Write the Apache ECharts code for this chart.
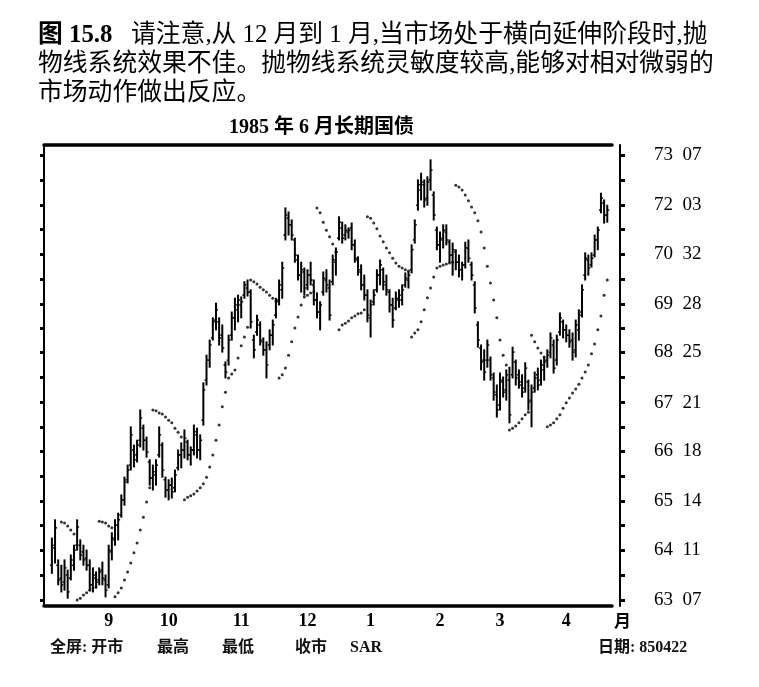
<!DOCTYPE html>
<html>
<head>
<meta charset="utf-8">
<script src="https://cdn.jsdelivr.net/npm/echarts@6.0.0/dist/echarts.min.js"></script>
<style>
  html, body { margin: 0; padding: 0; background: #fff; }
  #chart { width: 759px; height: 687px; }
</style>
</head>
<body>
<div id="chart"></div>
<script>
  // trading days shown on the chart, per month
  const TRADING_DAYS = [
    ['1984-08', [6, 7, 8, 9, 10, 13, 14, 15, 16, 17, 20, 21, 22, 23, 24, 27, 28, 29, 30, 31]],
    ['1984-09', [4, 5, 6, 7, 10, 11, 12, 13, 14, 17, 18, 19, 20, 21, 24, 25, 26, 27, 28]],
    ['1984-10', [1, 2, 3, 4, 5, 8, 9, 10, 11, 12, 15, 16, 17, 18, 19, 22, 23, 24, 25, 26, 29, 30, 31]],
    ['1984-11', [1, 2, 5, 6, 7, 8, 9, 12, 13, 14, 15, 16, 19, 20, 21, 23, 26, 27, 28, 29, 30]],
    ['1984-12', [3, 4, 5, 6, 7, 10, 11, 12, 13, 14, 17, 18, 19, 20, 21, 24, 26, 27, 28, 31]],
    ['1985-01', [2, 3, 4, 7, 8, 9, 10, 11, 14, 15, 16, 17, 18, 21, 22, 23, 24, 25, 28, 29, 30, 31]],
    ['1985-02', [1, 4, 5, 6, 7, 8, 11, 12, 13, 14, 15, 19, 20, 21, 22, 25, 26, 27, 28]],
    ['1985-03', [1, 4, 5, 6, 7, 8, 11, 12, 13, 14, 15, 18, 19, 20, 21, 22, 25, 26, 27, 28, 29]],
    ['1985-04', [1, 2, 3, 4, 8, 9, 10, 11, 12, 15, 16, 17, 18, 19, 22]],
  ];

  const OPEN = [
    null, null, 64.00, 64.39, 64.00, 63.71, 63.62, 63.78, 63.71, 64.00,
    64.45, 64.45, 64.30, 64.16, 64.00, 63.56, 63.71, 63.67, 63.89, 63.67,
    63.56, 64.30, 64.57, 64.90, 65.13, 65.47, 65.92, 66.25, 66.59, 66.48,
    66.81, 67.08, 66.81, 66.32, 65.96, 66.03, 66.48, 66.70, 65.92, 65.69,
    65.80, 65.74, 66.19, 66.48, 66.59, 66.77, 66.48, 66.59, 66.93, 66.59,
    67.26, 68.16, 68.61, 69.11, 69.51, 69.47, 69.17, 68.50, 68.61, 69.17,
    69.56, 69.74, 69.85, 70.07, 70.23, 70.14, 69.06, 69.24, 69.40, 69.02,
    68.84, 68.95, 69.17, 69.62, 69.96, 70.19, 71.42, 71.80, 71.65, 71.31,
    70.86, 70.52, 70.59, 70.30, 70.52, 70.30, 69.96, 69.69, 70.14, 70.41,
    70.23, 70.37, 70.81, 71.35, 71.58, 71.42, 71.49, 71.58, 71.20, 70.86,
    70.59, 70.30, 70.07, 69.56, 69.92, 70.19, 70.52, 70.64, 70.30, 70.14,
    69.85, 69.78, 69.96, 69.96, 70.30, 70.41, 70.64, 71.31, 72.09, 72.43,
    72.55, 72.25, 72.66, 72.32, 71.53, 71.20, 71.35, 71.49, 71.26, 70.97,
    71.04, 70.81, 70.64, 70.75, 71.13, 70.75, 70.30, 69.40, 68.88, 68.61,
    68.61, 68.61, 68.21, 67.83, 67.60, 68.12, 67.94, 68.16, 68.28, 68.57,
    68.28, 68.05, 67.98, 68.12, 67.71, 67.98, 68.28, 68.16, 68.39, 68.61,
    68.79, 68.95, 68.61, 69.24, 69.47, 69.29, 69.17, 69.06, 68.84, 69.29,
    69.69, 70.52, 70.86, 70.75, 70.97, 71.31, 71.98, 72.14, 71.87, null,
  ];
  const HIGH = [
    null, null, 64.61, 65.02, 64.12, 64.00, 64.12, 63.89, 64.23, 64.45,
    65.02, 64.57, 64.45, 64.34, 64.12, 63.94, 63.85, 63.94, 64.07, 63.78,
    64.45, 64.73, 65.02, 65.17, 65.58, 65.98, 66.25, 67.11, 66.70, 66.81,
    67.49, 67.15, 66.88, 66.37, 66.25, 66.37, 67.11, 66.75, 65.98, 65.92,
    65.96, 66.14, 66.59, 66.75, 67.04, 66.81, 66.66, 67.15, 67.08, 66.93,
    68.10, 68.72, 69.06, 69.56, 69.89, 69.56, 69.40, 68.57, 69.17, 69.69,
    70.00, 70.07, 70.03, 70.37, 70.41, 70.19, 69.17, 69.62, 69.47, 69.11,
    69.02, 69.29, 69.51, 70.00, 70.41, 70.81, 72.03, 71.94, 71.76, 71.35,
    70.97, 70.81, 70.68, 70.64, 70.81, 70.41, 70.12, 69.92, 70.59, 70.64,
    70.41, 70.97, 71.13, 71.83, 71.71, 71.65, 71.58, 71.69, 71.31, 70.93,
    70.75, 70.52, 70.19, 69.96, 70.19, 70.64, 70.86, 70.68, 70.52, 70.19,
    70.00, 70.14, 70.19, 70.30, 70.57, 70.59, 71.20, 71.76, 72.66, 72.81,
    72.66, 72.73, 73.11, 72.39, 71.60, 71.49, 71.65, 71.65, 71.31, 71.24,
    71.09, 70.97, 70.81, 71.26, 71.31, 70.81, 70.37, 69.47, 68.95, 68.84,
    69.06, 68.68, 68.32, 68.05, 68.32, 68.23, 68.39, 68.45, 68.90, 68.61,
    68.39, 68.28, 68.55, 68.16, 68.05, 68.34, 68.43, 68.61, 68.68, 68.84,
    69.22, 69.06, 69.17, 69.67, 69.51, 69.40, 69.29, 69.22, 69.51, 69.74,
    70.30, 71.02, 70.97, 71.02, 71.42, 71.60, 72.36, 72.21, 72.09, null,
  ];
  const LOW = [
    null, null, 63.82, 64.05, 63.56, 63.40, 63.44, 63.26, 63.67, 63.89,
    64.34, 64.12, 64.00, 63.89, 63.44, 63.40, 63.49, 63.56, 63.56, 63.29,
    63.49, 64.12, 64.45, 64.57, 65.08, 65.35, 65.85, 66.14, 66.21, 66.32,
    66.66, 66.59, 66.43, 65.80, 65.69, 65.80, 66.43, 65.98, 65.53, 65.47,
    65.51, 65.65, 66.14, 66.19, 66.41, 66.37, 66.25, 66.48, 66.41, 66.37,
    67.15, 68.05, 68.45, 69.06, 69.29, 68.95, 68.79, 68.21, 68.50, 69.06,
    69.29, 69.47, 69.56, 70.00, 70.05, 69.33, 68.66, 69.17, 68.95, 68.72,
    68.21, 68.84, 68.95, 69.56, 69.85, 70.00, 71.31, 71.42, 71.31, 70.81,
    70.41, 70.14, 70.07, 70.19, 70.30, 69.85, 69.56, 69.29, 70.07, 70.14,
    69.51, 70.30, 70.52, 71.31, 71.24, 71.31, 71.35, 71.09, 70.81, 70.52,
    70.19, 69.96, 69.47, 69.13, 69.85, 70.14, 70.30, 70.19, 70.07, 69.69,
    69.35, 69.74, 69.80, 69.85, 70.25, 70.23, 70.57, 71.24, 71.98, 72.21,
    72.05, 72.09, 72.43, 71.76, 71.09, 70.81, 71.13, 71.20, 70.81, 70.52,
    70.64, 70.48, 70.41, 70.68, 70.81, 70.41, 69.67, 68.90, 68.39, 68.16,
    68.45, 68.16, 67.71, 67.33, 67.49, 67.78, 67.71, 67.20, 68.21, 68.05,
    67.98, 67.78, 67.89, 67.49, 67.11, 67.89, 67.94, 68.05, 68.16, 68.45,
    68.66, 68.32, 68.50, 69.17, 69.11, 69.02, 68.90, 68.61, 68.68, 69.06,
    69.58, 70.41, 70.52, 70.70, 70.93, 71.09, 71.92, 71.69, 71.71, null,
  ];
  const CLOSE = [
    null, null, 64.45, 64.84, 63.67, 63.56, 63.94, 63.40, 64.12, 64.34,
    64.86, 64.23, 64.12, 64.00, 63.56, 63.78, 63.62, 63.85, 63.71, 63.44,
    64.34, 64.61, 64.90, 65.02, 65.47, 65.87, 66.14, 66.93, 66.37, 66.70,
    67.31, 66.81, 66.54, 65.96, 66.10, 66.25, 66.93, 66.14, 65.69, 65.80,
    65.65, 66.03, 66.48, 66.59, 66.86, 66.48, 66.59, 67.00, 66.59, 66.81,
    67.94, 68.61, 68.95, 69.47, 69.74, 69.11, 68.88, 68.34, 69.06, 69.56,
    69.85, 69.96, 69.92, 70.30, 70.14, 69.47, 68.84, 69.51, 69.06, 68.84,
    68.50, 69.17, 69.40, 69.92, 70.30, 70.68, 71.87, 71.65, 71.42, 70.97,
    70.52, 70.64, 70.23, 70.52, 70.41, 69.96, 69.69, 69.85, 70.45, 70.30,
    69.62, 70.86, 71.04, 71.71, 71.35, 71.53, 71.53, 71.20, 70.90, 70.64,
    70.30, 70.07, 69.62, 69.85, 70.07, 70.52, 70.75, 70.37, 70.19, 69.85,
    69.51, 70.00, 70.07, 70.19, 70.45, 70.52, 71.09, 71.65, 72.55, 72.61,
    72.21, 72.61, 72.88, 71.87, 71.20, 71.31, 71.53, 71.31, 70.97, 71.09,
    70.81, 70.64, 70.75, 71.13, 70.90, 70.52, 69.78, 69.06, 68.57, 68.34,
    68.95, 68.28, 67.89, 67.49, 68.16, 67.89, 68.28, 67.38, 68.79, 68.21,
    68.12, 67.89, 68.43, 67.67, 67.89, 68.21, 68.05, 68.50, 68.57, 68.72,
    69.11, 68.43, 69.06, 69.56, 69.29, 69.17, 69.02, 68.79, 69.40, 69.62,
    70.19, 70.90, 70.68, 70.90, 71.31, 71.53, 72.25, 71.87, 71.98, null,
  ];
  // parabolic stop-and-reverse dots
  const SAR = [
    null, null, null, null, null, 64.97, 64.95, 64.88, 64.79, 64.70,
    63.22, 63.26, 63.33, 63.38, 63.44, 63.49, 63.51, 64.99, 64.97, 64.95,
    64.88, 64.84, 63.29, 63.38, 63.49, 63.67, 63.85, 64.05, 64.28, 64.50,
    64.79, 65.08, 65.42, 65.74, 67.49, 67.47, 67.42, 67.40, 67.33, 67.26,
    67.20, 67.08, 66.99, 66.88, 65.47, 65.53, 65.56, 65.60, 65.67, 65.74,
    65.83, 65.98, 66.21, 66.48, 66.81, 67.15, 67.56, 67.89, 68.21, 68.30,
    68.39, 68.66, 68.93, 69.13, 69.35, 70.41, 70.37, 70.32, 70.25, 70.19,
    70.14, 70.07, 70.00, 69.94, 68.21, 68.28, 68.43, 68.72, 69.02, 69.33,
    69.58, 69.85, 70.03, 70.07, 70.12, 70.14, 72.03, 71.92, 71.71, 71.53,
    71.38, 71.22, 71.04, 69.29, 69.40, 69.44, 69.49, 69.56, 69.60, 69.65,
    69.67, 69.74, 71.83, 71.80, 71.69, 71.56, 71.40, 71.27, 71.13, 71.02,
    70.90, 70.79, 70.72, 70.68, 70.64, 70.61, 69.13, 69.22, 69.29, 69.47,
    69.74, 70.01, 70.23, 70.48, 70.68, 70.72, 70.75, 70.77, 70.79, 70.81,
    72.54, 72.50, 72.43, 72.32, 72.19, 72.05, 71.92, 71.74, 71.49, 71.13,
    70.72, 70.34, 69.96, 69.56, 69.06, 68.72, 68.50, 67.04, 67.08, 67.13,
    67.20, 67.29, 67.38, 67.44, 69.17, 69.02, 68.88, 68.77, 68.68, 67.11,
    67.15, 67.20, 67.29, 67.38, 67.53, 67.65, 67.76, 67.87, 67.96, 68.07,
    68.21, 68.34, 68.50, 68.75, 68.97, 69.29, 69.60, 70.07, 70.41, null,
  ];

  // price scale ticks, in points and 32nds
  const Y_TICK_LABELS = ['63 07', '64 11', '65 14', '66 18', '67 21', '68 25', '69 28', '70 32', '72 03', '73 07'];
  const Y_MIN = 63.084;
  const Y_MAX = 73.444;

  const CAPTION = [
    '{b|图 15.8}   请注意,从 12 月到 1 月,当市场处于横向延伸阶段时,抛',
    '物线系统效果不佳。抛物线系统灵敏度较高,能够对相对微弱的',
    '市场动作做出反应。',
  ];
  const CHART_TITLE = '1985 年 6 月长期国债';
  const FOOTER = [['全屏: 开市', 50], ['最高', 157], ['最低', 222], ['收市', 295], ['SAR', 350], ['日期: 850422', 598]];

  const SERIF = "'Liberation Serif', 'Noto Sans CJK SC', serif";
  const CJK = "'Liberation Serif', 'Noto Sans CJK SC', sans-serif";

  const CATEGORIES = [];
  TRADING_DAYS.forEach(([m, days]) => days.forEach((d) => CATEGORIES.push(m + '-' + String(d).padStart(2, '0'))));

  const yTickValue = (s) => { const [p, t] = s.split(' '); return Number(p) + Number(t) / 32; };
  const Y_TICKS = Y_TICK_LABELS.map(yTickValue);
  const Y_DOTS = Y_TICKS.concat(Y_TICKS.slice(1).map((v, i) => (v + Y_TICKS[i]) / 2));

  const isMonthStart = (i) => i > 0 && CATEGORIES[i].slice(0, 7) !== CATEGORIES[i - 1].slice(0, 7);

  const bars = [];
  const sar = [];
  for (let i = 0; i < CATEGORIES.length; i++) {
    if (HIGH[i] != null) bars.push([i, OPEN[i], HIGH[i], LOW[i], CLOSE[i]]);
    if (SAR[i] != null) sar.push([i, SAR[i]]);
  }

  function ohlcBar(params, api) {
    const x = api.value(0);
    const o = api.coord([x, api.value(1)]);
    const h = api.coord([x, api.value(2)]);
    const l = api.coord([x, api.value(3)]);
    const c = api.coord([x, api.value(4)]);
    const tick = { stroke: '#000', lineWidth: 1.4 };
    return {
      type: 'group',
      children: [
        { type: 'line', shape: { x1: h[0], y1: h[1] - 0.5, x2: l[0], y2: l[1] + 0.5 }, style: { stroke: '#000', lineWidth: 2 } },
        { type: 'line', shape: { x1: o[0] - 2, y1: o[1], x2: o[0], y2: o[1] }, style: tick },
        { type: 'line', shape: { x1: c[0], y1: c[1], x2: c[0] + 2, y2: c[1] }, style: tick },
      ],
    };
  }

  const chart = echarts.init(document.getElementById('chart'), null, { renderer: 'canvas' });

  const titles = CAPTION.map((t, k) => ({
    text: t,
    left: 38,
    top: 23 + k * 29,
    padding: 0,
    textStyle: {
      fontFamily: CJK, fontSize: 24.8, fontWeight: 'normal', color: '#000',
      rich: { b: { fontFamily: CJK, fontSize: 24.8, fontWeight: 'bold', color: '#000' } },
    },
  }));
  titles.push({
    text: CHART_TITLE, left: 229, top: 118, padding: 0,
    textStyle: { fontFamily: CJK, fontSize: 20, fontWeight: 'bold', color: '#000' },
  });
  FOOTER.forEach(([t, x]) => titles.push({
    text: t, left: x, top: 640, padding: 0,
    textStyle: { fontFamily: CJK, fontSize: 16, fontWeight: 'bold', color: '#111' },
  }));

  chart.setOption({
    animation: false,
    backgroundColor: '#fff',
    title: titles,
    grid: { left: 44, right: 147, top: 145, bottom: 81 },
    xAxis: [{
      type: 'category',
      data: CATEGORIES,
      boundaryGap: true,
      axisLine: { lineStyle: { color: '#000', width: 3.5 } },
      axisTick: { inside: true, length: 7, interval: isMonthStart, lineStyle: { color: '#000', width: 1.5 } },
      axisLabel: {
        interval: isMonthStart,
        formatter: (v) => String(Number(v.slice(5, 7))),
        color: '#000', fontFamily: SERIF, fontWeight: 'bold', fontSize: 18, margin: 6,
      },
      name: '月',
      nameLocation: 'end',
      nameGap: 2,
      nameTextStyle: { color: '#000', fontFamily: CJK, fontWeight: 'bold', fontSize: 17, verticalAlign: 'top', padding: [8, 0, 0, 0] },
      splitLine: { show: false },
    }, {
      type: 'category',
      data: CATEGORIES,
      position: 'top',
      axisLine: { lineStyle: { color: '#000', width: 3.5 } },
      axisTick: { show: false },
      axisLabel: { show: false },
    }],
    yAxis: [{
      type: 'value',
      position: 'right',
      offset: 8,
      min: Y_MIN,
      max: Y_MAX,
      splitLine: { show: false },
      axisLine: { show: true, lineStyle: { color: '#000', width: 2 } },
      axisTick: { show: true, customValues: Y_DOTS, length: 5, lineStyle: { color: '#000', width: 3 } },
      axisLabel: {
        customValues: Y_TICKS,
        formatter: (v) => {
          let k = 0;
          Y_TICKS.forEach((t, j) => { if (Math.abs(t - v) < Math.abs(Y_TICKS[k] - v)) k = j; });
          return Y_TICK_LABELS[k].replace(' ', '  ');
        },
        margin: 34, color: '#000', fontFamily: SERIF, fontSize: 19,
      },
    }, {
      type: 'value',
      position: 'left',
      min: Y_MIN,
      max: Y_MAX,
      splitLine: { show: false },
      axisLine: { show: true, lineStyle: { color: '#000', width: 2 } },
      axisTick: { show: true, customValues: Y_DOTS, length: 4, lineStyle: { color: '#000', width: 3 } },
      axisLabel: { show: false },
    }],
    series: [{
      name: 'OHLC',
      type: 'custom',
      yAxisIndex: 0,
      renderItem: ohlcBar,
      encode: { x: 0, y: [1, 2, 3, 4] },
      data: bars,
    }, {
      name: 'SAR',
      type: 'scatter',
      yAxisIndex: 0,
      symbol: 'circle',
      symbolSize: 3,
      itemStyle: { color: '#000' },
      data: sar,
    }],
  });
</script>
</body>
</html>
